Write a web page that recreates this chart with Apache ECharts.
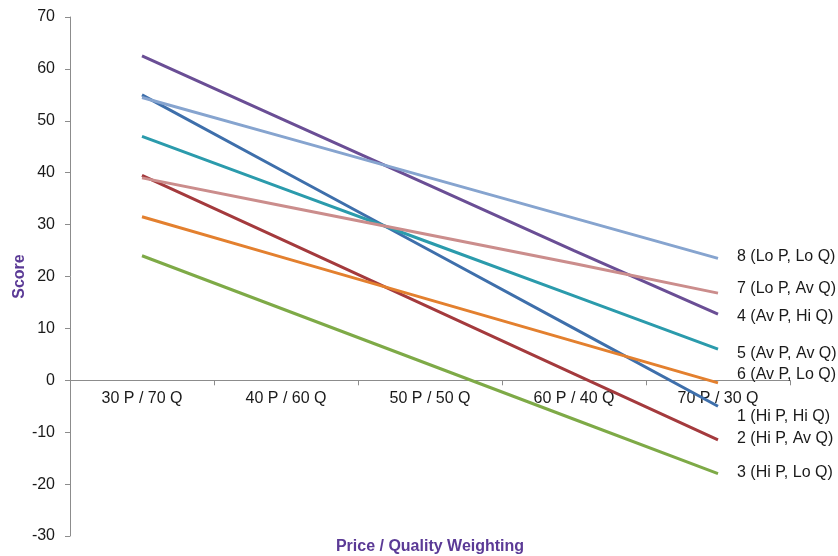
<!DOCTYPE html>
<html>
<head>
<meta charset="utf-8">
<script src="https://cdn.jsdelivr.net/npm/echarts@6/dist/echarts.min.js"></script>
<style>
  html, body { margin: 0; padding: 0; background: #fff; }
  #chart { width: 838px; height: 556px; }
</style>
</head>
<body>
<div id="chart"></div>
<script>
// Weighting scenarios along the horizontal axis
const categories = ['30 P / 70 Q', '40 P / 60 Q', '50 P / 50 Q', '60 P / 40 Q', '70 P / 30 Q'];

// Score of each bidder profile under every weighting
const seriesNames = [
  '1 (Hi P, Hi Q)', '2 (Hi P, Av Q)', '3 (Hi P, Lo Q)', '4 (Av P, Hi Q)',
  '5 (Av P, Av Q)', '6 (Av P, Lo Q)', '7 (Lo P, Av Q)', '8 (Lo P, Lo Q)'
];
const hiPHiQ = [55, 40, 25, 10, -5];
const hiPAvQ = [39.5, 26.75, 14, 1.25, -11.5];
const hiPLoQ = [24, 13.5, 3, -7.5, -18];
const avPHiQ = [62.5, 50, 37.5, 25, 12.75];
const avPAvQ = [47, 36.75, 26.5, 16.25, 6];
const avPLoQ = [31.5, 23.5, 15.5, 7.5, -0.5];
const loPAvQ = [39, 33.5, 28, 22.5, 16.8];
const loPLoQ = [54.5, 46.75, 39, 31.25, 23.5];
const seriesValues = [hiPHiQ, hiPAvQ, hiPLoQ, avPHiQ, avPAvQ, avPLoQ, loPAvQ, loPLoQ];

// Y axis tick range
const yMin = -30, yMax = 70, yStep = 10;

const colors = ['#3E6FAB', '#A43A3D', '#7EAA47', '#6A4E95', '#2B9BAC', '#E3802F', '#CB8D8C', '#86A4CF'];
// label nudges so the end labels do not collide
const labelShift = [
  [0, 10], [0, -1], [0, -1], [0, 2], [0, 4], [0, -8], [0, -5], [0, -2]
];

const gridTop = 17, gridBottom = 20, chartHeight = 556;
const plotHeight = chartHeight - gridTop - gridBottom;
// distance from the plot bottom up to the zero line
const zeroLift = plotHeight * (0 - yMin) / (yMax - yMin);

const font = 'Liberation Sans, Arial, sans-serif';

const series = seriesNames.map((name, i) => ({
  name: name,
  type: 'line',
  data: seriesValues[i],
  symbol: 'none',
  lineStyle: { width: 3, color: colors[i] },
  itemStyle: { color: colors[i] },
  z: 3,
  endLabel: {
    show: true,
    formatter: '{a}',
    distance: 19,
    offset: labelShift[i],
    color: '#1a1a1a',
    fontSize: 16,
    fontFamily: font
  },
  animation: false
}));

const chart = echarts.init(document.getElementById('chart'), null, { renderer: 'canvas' });
chart.setOption({
  animation: false,
  grid: { left: 70, right: 48, top: gridTop, bottom: gridBottom, containLabel: false, outerBoundsMode: 'none' },
  xAxis: {
    type: 'category',
    data: categories,
    boundaryGap: true,
    position: 'bottom',
    offset: -zeroLift,
    name: 'Price / Quality Weighting',
    nameLocation: 'middle',
    nameGap: 158,
    nameMoveOverlap: false,
    nameTextStyle: { color: '#5B3A96', fontWeight: 'bold', fontSize: 16, fontFamily: font },
    axisLine: { onZero: false, lineStyle: { color: '#8c8c8c', width: 1 } },
    axisTick: { show: true, length: 5, lineStyle: { color: '#8c8c8c' } },
    axisLabel: { color: '#1a1a1a', fontSize: 16, margin: 10, fontFamily: font },
    splitLine: { show: false }
  },
  yAxis: {
    type: 'value',
    min: yMin,
    max: yMax,
    interval: yStep,
    name: 'Score',
    nameLocation: 'middle',
    nameGap: 42,
    nameMoveOverlap: false,
    nameTextStyle: { color: '#5B3A96', fontWeight: 'bold', fontSize: 16, fontFamily: font },
    axisLine: { show: true, lineStyle: { color: '#8c8c8c', width: 1 } },
    axisTick: { show: true, length: 5, lineStyle: { color: '#8c8c8c' } },
    axisLabel: { color: '#1a1a1a', fontSize: 16, margin: 15, fontFamily: font },
    splitLine: { show: false }
  },
  series: series
});
</script>
</body>
</html>
